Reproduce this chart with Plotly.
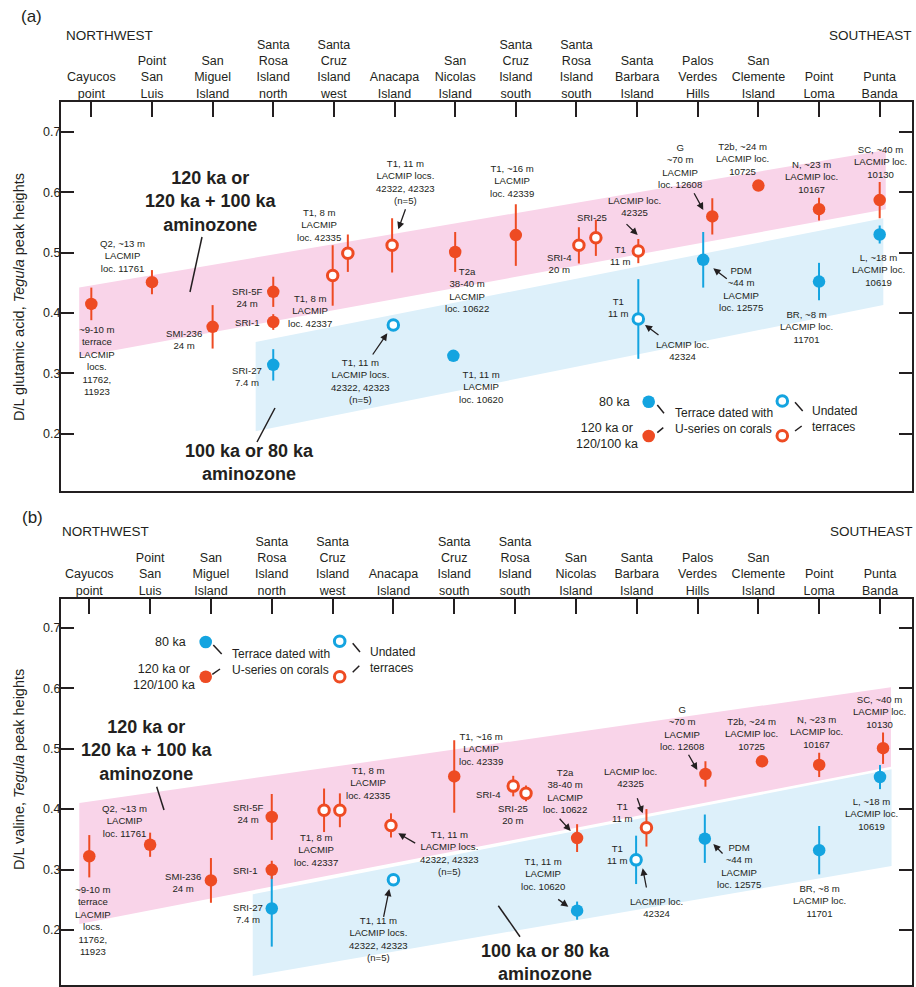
import plotly.graph_objects as go

W, H = 916, 987
ML, MR, MT, MB = 61, 4, 0, 0
PW = W - ML - MR
PH = H - MT - MB

RED = '#EE4B23'
BLUE = '#14A4E0'
PINK = '#F9D4E9'
LBLUE = '#DDF0FA'
INK = '#231F20'
FONT = 'Liberation Sans, Arial, sans-serif'

# ---------------- data ----------------
sites_a = ["Cayucos<br>point", "Point<br>San<br>Luis", "San<br>Miguel<br>Island",
           "Santa<br>Rosa<br>Island<br>north", "Santa<br>Cruz<br>Island<br>west",
           "Anacapa<br>Island", "San<br>Nicolas<br>Island", "Santa<br>Cruz<br>Island<br>south",
           "Santa<br>Rosa<br>Island<br>south", "Santa<br>Barbara<br>Island",
           "Palos<br>Verdes<br>Hills", "San<br>Clemente<br>Island", "Point<br>Loma", "Punta<br>Banda"]
sites_b = ["Cayucos<br>point", "Point<br>San<br>Luis", "San<br>Miguel<br>Island",
           "Santa<br>Rosa<br>Island<br>north", "Santa<br>Cruz<br>Island<br>west",
           "Anacapa<br>Island", "Santa<br>Cruz<br>Island<br>south", "Santa<br>Rosa<br>Island<br>south",
           "San<br>Nicolas<br>Island", "Santa<br>Barbara<br>Island",
           "Palos<br>Verdes<br>Hills", "San<br>Clemente<br>Island", "Point<br>Loma", "Punta<br>Banda"]
site_pos = list(range(1, 15))
y_ticks = [0.2, 0.3, 0.4, 0.5, 0.6, 0.7]

# Panel (a): D/L glutamic acid
a_red_filled_x = [1, 2, 3, 4, 4, 7, 8, 11.24, 12, 13, 14]
a_red_filled_y = [0.415, 0.451, 0.377, 0.435, 0.385, 0.501, 0.529, 0.560, 0.611, 0.572, 0.587]
a_red_filled_e = [0.027, 0.020, 0.036, 0.025, 0.013, 0.033, 0.051, 0.030, 0.006, 0.019, 0.030]
a_red_open_x = [4.98, 5.23, 5.96, 9.04, 9.32, 10.02]
a_red_open_y = [0.462, 0.499, 0.512, 0.512, 0.5245, 0.5025]
a_red_open_e = [0.050, 0.031, 0.045, 0.030, 0.030, 0.020]
a_blue_filled_x = [4, 6.97, 11.09, 13, 14]
a_blue_filled_y = [0.314, 0.329, 0.488, 0.452, 0.530]
a_blue_filled_e = [0.026, 0.0, 0.046, 0.031, 0.015]
a_blue_open_x = [5.98, 10.02]
a_blue_open_y = [0.380, 0.390]
a_blue_open_e = [0.0, 0.066]
a_pink_x = [0.80, 14.10]
a_pink_top = [0.442, 0.670]
a_pink_bot = [0.3275, 0.572]
a_lblue_x = [3.71, 14.06]
a_lblue_top = [0.352, 0.557]
a_lblue_bot = [0.204, 0.413]

# Panel (b): D/L valine
b_red_filled_x = [1, 2, 3, 4, 4, 7, 9.02, 11.13, 12.06, 13, 14.05]
b_red_filled_y = [0.322, 0.341, 0.282, 0.387, 0.2995, 0.454, 0.352, 0.458, 0.479, 0.473, 0.5007]
b_red_filled_e = [0.035, 0.020, 0.037, 0.038, 0.015, 0.060, 0.023, 0.021, 0.0, 0.020, 0.026]
b_red_open_x = [4.86, 5.12, 5.96, 7.97, 8.18, 10.16]
b_red_open_y = [0.398, 0.398, 0.373, 0.438, 0.426, 0.369]
b_red_open_e = [0.036, 0.028, 0.020, 0.017, 0.013, 0.031]
b_blue_filled_x = [4, 9.02, 11.12, 13, 14.0]
b_blue_filled_y = [0.2355, 0.232, 0.351, 0.332, 0.453]
b_blue_filled_e = [0.063, 0.015, 0.040, 0.040, 0.020]
b_blue_open_x = [6, 9.99]
b_blue_open_y = [0.283, 0.316]
b_blue_open_e = [0.0, 0.040]
b_pink_x = [0.836, 14.18]
b_pink_top = [0.410, 0.6015]
b_pink_bot = [0.210, 0.470]
b_lblue_x = [3.687, 14.19]
b_lblue_top = [0.259, 0.466]
b_lblue_bot = [0.124, 0.306]


def px(x):
    return (x - ML) / PW


def py(y):
    return 1 - (y - MT) / PH


fig = go.Figure()


def band(xs, top, bot, color, xa, ya):
    fig.add_trace(go.Scatter(x=[xs[0], xs[1], xs[1], xs[0], xs[0]],
                             y=[top[0], top[1], bot[1], bot[0], top[0]],
                             fill='toself', fillcolor=color, mode='lines',
                             line=dict(width=0, color=color), hoverinfo='skip',
                             xaxis=xa, yaxis=ya))


def series(xs, ys, es, color, filled, xa, ya):
    if filled:
        marker = dict(size=12.5, color=color, line=dict(width=0))
    else:
        marker = dict(size=10.5, color='white', line=dict(width=3, color=color))
    fig.add_trace(go.Scatter(x=xs, y=ys, mode='markers', marker=marker,
                             error_y=dict(type='data', array=es, visible=True,
                                          color=color, thickness=2, width=0),
                             xaxis=xa, yaxis=ya, hoverinfo='skip'))


band(a_pink_x, a_pink_top, a_pink_bot, PINK, 'x', 'y')
band(a_lblue_x, a_lblue_top, a_lblue_bot, LBLUE, 'x', 'y')
band(b_pink_x, b_pink_top, b_pink_bot, PINK, 'x2', 'y2')
band(b_lblue_x, b_lblue_top, b_lblue_bot, LBLUE, 'x2', 'y2')

series(a_blue_filled_x, a_blue_filled_y, a_blue_filled_e, BLUE, True, 'x', 'y')
series(a_blue_open_x, a_blue_open_y, a_blue_open_e, BLUE, False, 'x', 'y')
series(a_red_filled_x, a_red_filled_y, a_red_filled_e, RED, True, 'x', 'y')
series(a_red_open_x, a_red_open_y, a_red_open_e, RED, False, 'x', 'y')

series(b_blue_filled_x, b_blue_filled_y, b_blue_filled_e, BLUE, True, 'x2', 'y2')
series(b_blue_open_x, b_blue_open_y, b_blue_open_e, BLUE, False, 'x2', 'y2')
series(b_red_filled_x, b_red_filled_y, b_red_filled_e, RED, True, 'x2', 'y2')
series(b_red_open_x, b_red_open_y, b_red_open_e, RED, False, 'x2', 'y2')

annotations = []
shapes = []


def lab(x, y, text, size=9.6, bold=False, xanchor='center', align='center', angle=0):
    if bold:
        text = '<b>' + text.replace('<br>', '</b><br><b>') + '</b>'
    annotations.append(dict(x=px(x), y=py(y), xref='paper', yref='paper', text=text,
                            showarrow=False, xanchor=xanchor, yanchor='middle', align=align,
                            textangle=angle, font=dict(family=FONT, size=size, color=INK)))


def arrow(x0, y0, x1, y1):
    annotations.append(dict(x=px(x1), y=py(y1), xref='paper', yref='paper', text='',
                            showarrow=True, ax=x0 - x1, ay=y0 - y1, arrowhead=2,
                            arrowsize=1.1, arrowwidth=1.3, arrowcolor=INK, standoff=0))


def seg(x0, y0, x1, y1, w=1.5):
    shapes.append(dict(type='line', xref='paper', yref='paper', x0=px(x0), y0=py(y0),
                       x1=px(x1), y1=py(y1), line=dict(color=INK, width=w)))


def dot(cx, cy, color, filled):
    r = 6.3 if filled else 5.3
    shapes.append(dict(type='circle', xref='paper', yref='paper',
                       x0=px(cx - r), x1=px(cx + r), y0=py(cy + r), y1=py(cy - r),
                       fillcolor=color if filled else 'white',
                       line=dict(color=color, width=0 if filled else 3)))


LOCS = "T1, 11 m<br>LACMIP locs.<br>42322, 42323<br>(n=5)"

# ---- panel (a) text ----
lab(31, 16, "(a)", size=17)
lab(64, 35, "NORTHWEST", size=13.5, xanchor='left')
lab(914, 35, "SOUTHEAST", size=13.5, xanchor='right')
lab(19, 297, "D/L glutamic acid, <i>Tegula</i> peak heights", size=14.5, angle=-90)
for (x, y, t) in [
    (122, 256, "Q2, ~13 m<br>LACMIP<br>loc. 11761"),
    (97, 360, "~9-10 m<br>terrace<br>LACMIP<br>locs.<br>11762,<br>11923"),
    (184, 339, "SMI-236<br>24 m"),
    (247, 297, "SRI-5F<br>24 m"),
    (247, 322, "SRI-1"),
    (247, 377, "SRI-27<br>7.4 m"),
    (319, 225, "T1, 8 m<br>LACMIP<br>loc. 42335"),
    (310, 311, "T1, 8 m<br>LACMIP<br>loc. 42337"),
    (405, 182, LOCS),
    (360, 381, LOCS),
    (467, 290, "T2a<br>38-40 m<br>LACMIP<br>loc. 10622"),
    (481, 387, "T1, 11 m<br>LACMIP<br>loc. 10620"),
    (512, 181, "T1, ~16 m<br>LACMIP<br>loc. 42339"),
    (592, 218, "SRI-25"),
    (559, 263, "SRI-4<br>20 m"),
    (634, 206, "LACMIP loc.<br>42325"),
    (620, 256, "T1<br>11 m"),
    (618, 307, "T1<br>11 m"),
    (682, 350, "LACMIP loc.<br>42324"),
    (680, 166, "G<br>~70 m<br>LACMIP<br>loc. 12608"),
    (742, 159, "T2b, ~24 m<br>LACMIP loc.<br>10725"),
    (811, 177, "N, ~23 m<br>LACMIP loc.<br>10167"),
    (880, 162, "SC, ~40 m<br>LACMIP loc.<br>10130"),
    (741, 289, "PDM<br>~44 m<br>LACMIP<br>loc. 12575"),
    (878, 270, "L, ~18 m<br>LACMIP loc.<br>10619"),
    (806, 327, "BR, ~8 m<br>LACMIP loc.<br>11701"),
]:
    lab(x, y, t)
arrow(406, 207.7, 398.3, 229.3)
arrow(371.7, 356, 387.3, 333.3)
arrow(625, 222.7, 637.7, 235)
arrow(660, 336, 645, 325)
arrow(693.3, 191.7, 703.3, 210)
arrow(728.3, 280, 713.3, 268.3)
seg(202, 237, 190, 292)
seg(275, 408, 257, 442)
lab(211, 201, "120 ka or<br>120 ka + 100 ka<br>aminozone", size=18, bold=True)
lab(249, 463, "100 ka or 80 ka<br>aminozone", size=18, bold=True)
# legend (a)
dot(648.7, 401.7, BLUE, True)
dot(648.7, 436, RED, True)
dot(782.3, 401, BLUE, False)
dot(782.3, 435.7, RED, False)
lab(632, 402, "80 ka", size=12.5, xanchor='right')
lab(607, 436, "120 ka or<br>120/100 ka", size=12.5)
lab(673, 421, "Terrace dated with<br>U-series on corals", size=12, xanchor='left', align='left')
lab(810, 419, "Undated<br>terraces", size=12, xanchor='left', align='left')
seg(657.3, 405, 664, 413.3)
seg(657.3, 432.7, 663.3, 427.7)
seg(795, 402.3, 802.7, 411)
seg(795, 431, 801.7, 426)

# ---- panel (b) text ----
lab(32, 517, "(b)", size=17)
lab(60, 531, "NORTHWEST", size=13.5, xanchor='left')
lab(915, 531, "SOUTHEAST", size=13.5, xanchor='right')
lab(19, 770, "D/L valine, <i>Tegula</i> peak heights", size=14.5, angle=-90)
for (x, y, t) in [
    (124, 821, "Q2, ~13 m<br>LACMIP<br>loc. 11761"),
    (93, 920, "~9-10 m<br>terrace<br>LACMIP<br>locs.<br>11762,<br>11923"),
    (183, 882, "SMI-236<br>24 m"),
    (248, 813, "SRI-5F<br>24 m"),
    (245, 870, "SRI-1"),
    (248, 913, "SRI-27<br>7.4 m"),
    (368, 783, "T1, 8 m<br>LACMIP<br>loc. 42335"),
    (316, 850, "T1, 8 m<br>LACMIP<br>loc. 42337"),
    (449, 853, LOCS),
    (378, 939, LOCS),
    (481, 749, "T1, ~16 m<br>LACMIP<br>loc. 42339"),
    (488, 794, "SRI-4"),
    (513, 814, "SRI-25<br>20 m"),
    (565, 791, "T2a<br>38-40 m<br>LACMIP<br>loc. 10622"),
    (630, 777, "LACMIP loc.<br>42325"),
    (622, 812, "T1<br>11 m"),
    (617, 854, "T1<br>11 m"),
    (543, 874, "T1, 11 m<br>LACMIP<br>loc. 10620"),
    (656, 907, "LACMIP loc.<br>42324"),
    (682, 728, "G<br>~70 m<br>LACMIP<br>loc. 12608"),
    (751, 734, "T2b, ~24 m<br>LACMIP loc.<br>10725"),
    (816, 732, "N, ~23 m<br>LACMIP loc.<br>10167"),
    (879, 712, "SC, ~40 m<br>LACMIP loc.<br>10130"),
    (739, 866, "PDM<br>~44 m<br>LACMIP<br>loc. 12575"),
    (871, 814, "L, ~18 m<br>LACMIP loc.<br>10619"),
    (819, 901, "BR, ~8 m<br>LACMIP loc.<br>11701"),
]:
    lab(x, y, t)
arrow(416.7, 844, 398.3, 833.3)
arrow(383.3, 918.3, 389.3, 889)
arrow(558.3, 817.3, 570.7, 831)
arrow(636.7, 796.7, 642.7, 813.3)
arrow(556.7, 898.3, 568.3, 906.7)
arrow(646.7, 889, 642.7, 868.3)
arrow(687.7, 753.3, 697.3, 770)
arrow(724, 855, 713.3, 844)
seg(156.7, 786.7, 164, 810)
seg(498.3, 905.7, 520, 936.7)
lab(147, 750, "120 ka or<br>120 ka + 100 ka<br>aminozone", size=18, bold=True)
lab(545, 962, "100 ka or 80 ka<br>aminozone", size=18, bold=True)
# legend (b)
dot(205.7, 642, BLUE, True)
dot(205.7, 676.7, RED, True)
dot(339.7, 641.3, BLUE, False)
dot(339.7, 676.7, RED, False)
lab(188, 642, "80 ka", size=12.5, xanchor='right')
lab(164, 677, "120 ka or<br>120/100 ka", size=12.5)
lab(230, 662, "Terrace dated with<br>U-series on corals", size=12, xanchor='left', align='left')
lab(368, 660, "Undated<br>terraces", size=12, xanchor='left', align='left')
seg(213.3, 645, 221.7, 654)
seg(212.3, 674.3, 220, 669)
seg(352.7, 643.3, 360, 652)
seg(352.7, 672.3, 359.3, 665.7)

xcommon = dict(side='top', tickmode='array', tickvals=site_pos, ticks='inside', ticklen=15,
               tickwidth=1.5, tickcolor=INK, showline=True, linewidth=2, linecolor=INK,
               mirror=True, showgrid=False, zeroline=False, ticklabelstandoff=-3,
               tickfont=dict(family=FONT, size=12.5, color=INK))
ycommon = dict(tickmode='array', tickvals=y_ticks, ticktext=[f"{v:.1f}" for v in y_ticks],
               ticks='inside', ticklen=13, tickwidth=1.5, tickcolor=INK, showline=True,
               linewidth=2, linecolor=INK, mirror='ticks', showgrid=False, zeroline=False,
               ticklabelstandoff=-4,
               tickfont=dict(family=FONT, size=12.5, color=INK))

fig.update_layout(
    width=W, height=H, margin=dict(l=ML, r=MR, t=MT, b=MB),
    paper_bgcolor='white', plot_bgcolor='white', showlegend=False,
    xaxis=dict(xcommon, domain=[0, 1], anchor='y', range=[0.5, 14.533], ticktext=sites_a),
    yaxis=dict(ycommon, domain=[py(491), py(101.7)], anchor='x', range=[0.105, 0.75]),
    xaxis2=dict(xcommon, domain=[0, 1], anchor='y2', range=[0.535, 14.526], ticktext=sites_b),
    yaxis2=dict(ycommon, domain=[py(985), py(598.7)], anchor='x2', range=[0.109, 0.748]),
    annotations=annotations, shapes=shapes,
)

fig.write_html("out.html", config={'displayModeBar': False},
               post_script="document.body.style.margin='0';document.body.style.overflow='hidden';")
